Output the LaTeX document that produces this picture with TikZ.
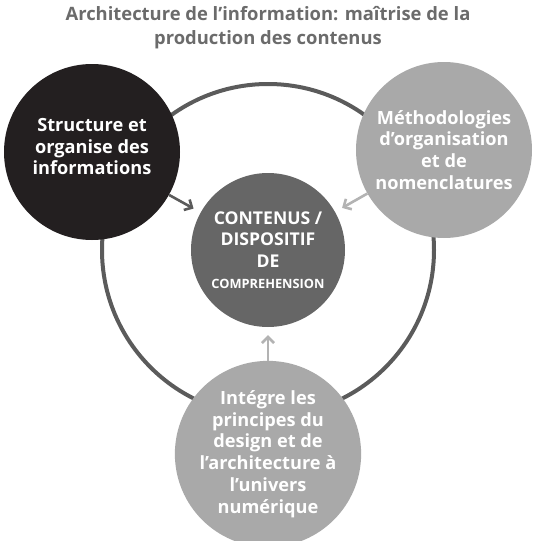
\documentclass[tikz,border=0pt]{standalone}
\usepackage{fontspec}
\setmainfont{Open Sans}
\usetikzlibrary{arrows.meta,positioning}
\definecolor{archInk}{HTML}{231F20}
\definecolor{archCore}{HTML}{666666}
\definecolor{archLight}{HTML}{A9A9A9}
\definecolor{archRing}{HTML}{5B5B5B}
\definecolor{archTitle}{HTML}{6B6B6B}
\definecolor{archArrow}{HTML}{B3B3B3}

\begin{document}
\begin{tikzpicture}[
  x=1pt, y=-1pt,
  pillar/.style={circle, inner sep=0pt, minimum size=176pt, align=center, text=white, font=\bfseries\fontsize{18.2}{21.8}\selectfont},
  core/.style={circle, inner sep=0pt, minimum size=154pt, align=center, fill=archCore, text=white, font=\bfseries\fontsize{17.6}{21.5}\selectfont},
  arrow/.style={-{Straight Barb[length=6pt, width=12pt]}, line width=2.6pt, shorten >=8pt},
  ring/.style={draw=archRing, line width=4pt},
  heading/.style={align=center, text=archTitle, font=\bfseries\fontsize{18.4}{24}\selectfont}
]
  \useasboundingbox (0,0) rectangle (535,541);

  \node[heading] (title) at (268,28) {Architecture de l’information: maîtrise de la\\production des contenus};

  \node[core] (core) at (268,250) {CONTENUS /\\DISPOSITIF\\DE\\{\fontsize{12.8}{15}\selectfont COMPREHENSION}};
  \draw[ring] (core.center) circle[radius=166];

  \node[pillar, fill=archInk] (structure) at (92,152) {Structure et\\organise des\\informations\\[-11pt]};
  \node[pillar, fill=archLight] (methods) at (444,150) {Méthodologies\\d’organisation\\et de\\nomenclatures};
  \node[pillar, fill=archLight, minimum size=170pt] (design) at (268,454) {Intégre les\\principes du\\design et de\\l’architecture à\\l’univers\\numérique};

  \draw[arrow, draw=archRing] (structure) -- (core);
  \draw[arrow, draw=archArrow] (methods) -- (core);
  \draw[arrow, draw=archArrow] (design) -- (core);
\end{tikzpicture}
\end{document}
